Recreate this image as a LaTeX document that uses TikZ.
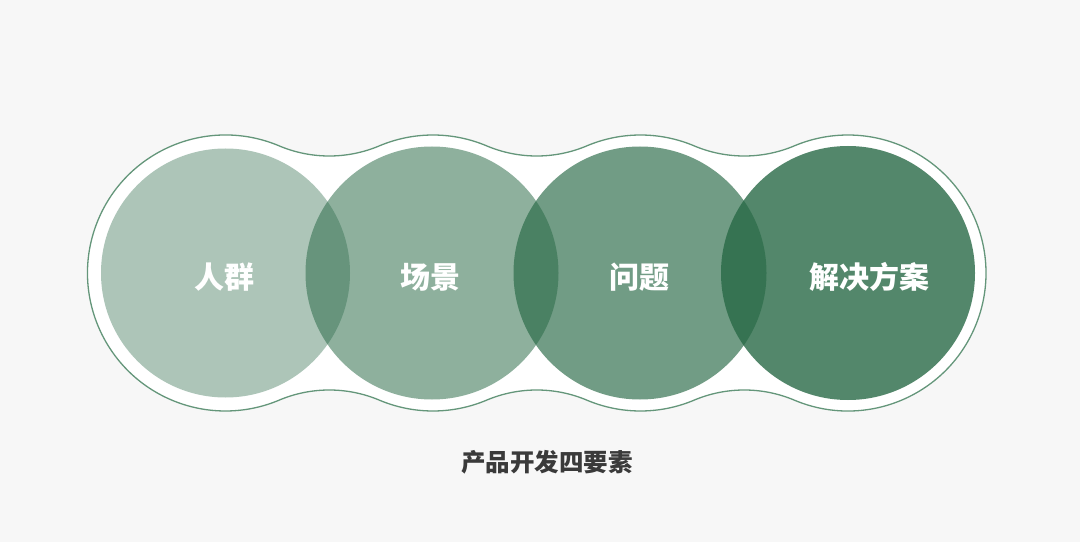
\documentclass[tikz,border=0pt]{standalone}
\usepackage{fontspec}
\newfontfamily\cjk{Noto Sans CJK SC}
\usetikzlibrary{positioning}
\definecolor{bg}{HTML}{F7F7F7}
\definecolor{leaf}{RGB}{40,105,70}
\definecolor{rim}{RGB}{100,150,122}
\definecolor{ink}{RGB}{58,58,58}

\begin{document}
\begin{tikzpicture}[x=1pt, y=1pt,
        disc/.style={circle, fill=leaf, inner sep=0pt, minimum size=#1},
        tag/.style={text=white, font=\cjk\bfseries\fontsize{30}{36}\selectfont},
        caption/.style={text=ink, font=\cjk\bfseries\fontsize{24.5}{28}\selectfont}]
        % Background
        \fill[bg] (0,0) rectangle (1080,542);
        \useasboundingbox (0,0) rectangle (1080,542);

        % Outline round the four circles
        \def\R{138}
        \def\F{128.8}
        \pgfmathsetmacro\Aa{acos(103.75/(\R+\F))}
        \pgfmathsetmacro\Ab{180-\Aa}
        \pgfmathsetmacro\Ac{180+\Aa}
        \pgfmathsetmacro\Ad{360-\Aa}
        \pgfmathsetmacro\Ae{540-\Aa}
        \coordinate (o1) at (225.5,269);
        \draw[rim, fill=white, line width=1.3pt]
            ([shift={(\Aa:\R)}]o1) arc[start angle=\Aa, end angle=\Ad, radius=\R]
            arc[start angle=\Ab, end angle=\Aa, radius=\F]
            arc[start angle=\Ac, end angle=\Ad, radius=\R]
            arc[start angle=\Ab, end angle=\Aa, radius=\F]
            arc[start angle=\Ac, end angle=\Ad, radius=\R]
            arc[start angle=\Ab, end angle=\Aa, radius=\F]
            arc[start angle=\Ac, end angle=\Ae, radius=\R]
            arc[start angle=\Ad, end angle=\Ac, radius=\F]
            arc[start angle=\Aa, end angle=\Ab, radius=\R]
            arc[start angle=\Ad, end angle=\Ac, radius=\F]
            arc[start angle=\Aa, end angle=\Ab, radius=\R]
            arc[start angle=\Ad, end angle=\Ac, radius=\F]
            -- cycle;

        % Circles
        \node[disc=249pt, fill opacity=0.38] (c1) at (225.5,269) {};
        \node[disc=253pt, fill opacity=0.525] (c2) at (432,269) {};
        \node[disc=253pt, fill opacity=0.66] (c3) at (640,269) {};
        \node[disc=254pt, fill opacity=0.8] (c4) at (848,269) {};

        % Labels
        \node[tag] (crowd) at ([shift={(-1,-4)}]c1.center) {人群};
        \node[tag] (scene) at ([shift={(-2,-4)}]c2.center) {场景};
        \node[tag] (issue) at ([shift={(-1,-4)}]c3.center) {问题};
        \node[tag] (answer) at ([shift={(21,-4)}]c4.center) {解决方案};

        % Title
        \node[caption] (title) at (547,80) {产品开发四要素};
    \end{tikzpicture}
\end{document}
